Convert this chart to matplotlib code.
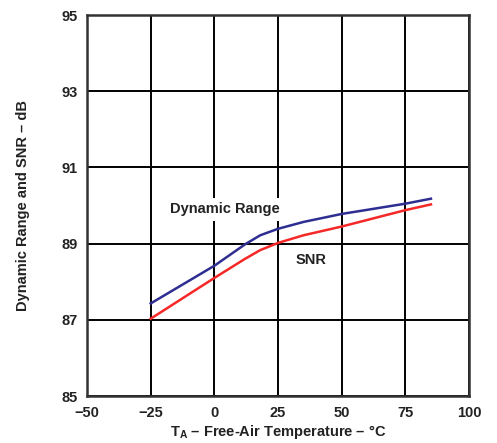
import matplotlib
matplotlib.use("Agg")
import matplotlib.pyplot as plt

# Temperature sweep (°C) and measured values (dB)
temperature = [-25, 0, 12, 18, 25, 35, 50, 75, 85]
dynamic_range = [87.43, 88.42, 88.98, 89.22, 89.39, 89.57, 89.78, 90.05, 90.18]
snr = [87.03, 88.10, 88.60, 88.83, 89.02, 89.22, 89.45, 89.88, 90.03]

x_ticks = [-50, -25, 0, 25, 50, 75, 100]
y_ticks = [85, 87, 89, 91, 93, 95]

plt.rcParams['font.family'] = ['Liberation Sans', 'DejaVu Sans']
plt.rcParams['mathtext.fontset'] = 'custom'
plt.rcParams['mathtext.rm'] = 'Liberation Sans:bold'

FS = 10.5
TXT = '#222222'

fig = plt.figure(figsize=(4.97, 4.43), dpi=100)
ax = fig.add_axes([0.175, 0.106, 0.769, 0.86])

ax.set_xlim(-50, 100)
ax.set_ylim(85, 95)
ax.set_xticks(x_ticks)
ax.set_yticks(y_ticks)
ax.set_xticklabels([str(v).replace('-', '\u2212') for v in x_ticks])
ax.set_yticklabels([str(v) for v in y_ticks])
ax.tick_params(length=0, pad=7, labelsize=FS, colors=TXT)
for lbl in ax.get_xticklabels() + ax.get_yticklabels():
    lbl.set_fontweight('bold')

ax.grid(True, color='black', linewidth=1.4)
for s in ax.spines.values():
    s.set_color('#333333')
    s.set_linewidth(1.8)

ax.plot(temperature, dynamic_range, color='#2e2e92', linewidth=1.8, zorder=3)
ax.plot(temperature, snr, color='#f52828', linewidth=1.8, zorder=3)

ax.text(4.3, 89.9, 'Dynamic Range', ha='center', va='center', fontsize=FS,
        fontweight='bold', color=TXT, zorder=4,
        bbox=dict(facecolor='white', edgecolor='none', pad=3))
ax.text(37.8, 88.58, 'SNR', ha='center', va='center', fontsize=FS,
        fontweight='bold', color=TXT, zorder=4,
        bbox=dict(facecolor='white', edgecolor='none', pad=3))

ax.set_xlabel('T$_\\mathregular{A}$ \u2013 Free-Air Temperature \u2013 °C',
              fontsize=FS, fontweight='bold', color=TXT, labelpad=2)
ax.set_ylabel('Dynamic Range and SNR \u2013 dB', fontsize=FS, fontweight='bold',
              color=TXT, labelpad=22)

fig.savefig('out.png', dpi=100)
